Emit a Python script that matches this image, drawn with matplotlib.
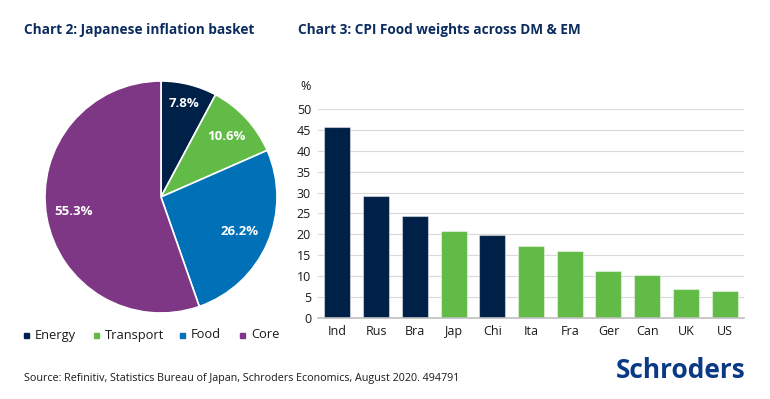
import numpy as np
import matplotlib.pyplot as plt
from matplotlib.patches import Rectangle

plt.rcParams['font.family'] = ['Open Sans', 'DejaVu Sans']

# Chart 2 data
pie_labels = ['Energy', 'Transport', 'Food', 'Core']
pie_values = [7.8, 10.6, 26.2, 55.3]
pie_colors = ['#002147', '#62BB46', '#0071B7', '#7E3784']

# Chart 3 data
countries = ['Ind', 'Rus', 'Bra', 'Jap', 'Chi', 'Ita', 'Fra', 'Ger', 'Can', 'UK', 'US']
food_weights = [45.7, 29.1, 24.4, 20.9, 19.9, 17.2, 15.9, 11.1, 10.2, 7.0, 6.3]
is_em = [True, True, True, False, True, False, False, False, False, False, False]

navy = '#0B2C5F'
text_col = '#1a1a1a'
W, H = 770, 399

fig = plt.figure(figsize=(7.7, 3.99), dpi=100)

# --- pie ---
ax1 = fig.add_axes([0.0584, 0.2155, 0.3013, 0.5815])
wedges, _ = ax1.pie(pie_values, colors=pie_colors, startangle=90, counterclock=False,
                    wedgeprops=dict(edgecolor='white', linewidth=1.2))
ax1.set_xlim(-1, 1)
ax1.set_ylim(-1, 1)
ax1.set_aspect('equal')
label_r = [0.83, 0.77, 0.74, 0.76]
for w, v, r in zip(wedges, pie_values, label_r):
    ang = np.deg2rad((w.theta1 + w.theta2) / 2)
    ax1.text(r * np.cos(ang), r * np.sin(ang), f'{v:.1f}%', ha='center', va='center',
             color='white', fontsize=9.5, fontweight='bold')

# legend of the pie
sq_x = [24, 94, 180, 240]
for lab, col, x in zip(pie_labels, pie_colors, sq_x):
    fig.patches.append(Rectangle((x / W, 1 - 337.5 / H), 5 / W, 5 / H, color=col,
                                 transform=fig.transFigure, figure=fig))
    fig.text((x + 11) / W, 1 - 335 / H, lab, color=text_col, fontsize=9.3, va='center', ha='left')

# --- bars ---
ax2 = fig.add_axes([0.413, 0.2038, 0.5532, 0.5223])
x = np.arange(len(countries))
bar_cols = [pie_colors[0] if em else pie_colors[1] for em in is_em]
ax2.bar(x, food_weights, width=0.67, color=bar_cols, edgecolor=(1, 1, 1, 0.45),
        linewidth=0.8, zorder=3)
ax2.set_xlim(-0.5, len(countries) - 0.5)
ax2.set_ylim(0, 50)
ax2.set_yticks(np.arange(0, 51, 5))
ax2.set_xticks(x)
ax2.set_xticklabels(countries)
ax2.yaxis.grid(True, color='#D9D9D9', linewidth=0.8, zorder=0)
ax2.tick_params(axis='both', length=0, labelsize=9, colors=text_col)
ax2.tick_params(axis='y', pad=5)
ax2.tick_params(axis='x', pad=5)
for s in ['top', 'right', 'left']:
    ax2.spines[s].set_visible(False)
ax2.spines['bottom'].set_color('#BFBFBF')
ax2.spines['bottom'].set_linewidth(1.2)
ax2.spines['bottom'].set_zorder(4)
fig.text(300 / W, 1 - 86 / H, '%', fontsize=9, color=text_col, va='center', ha='left')

# titles
fig.text(24 / W, 1 - 30 / H, 'Chart 2: Japanese inflation basket', fontsize=9.8,
         fontweight='bold', color=navy, va='center', ha='left')
fig.text(298 / W, 1 - 30 / H, 'Chart 3: CPI Food weights across DM & EM', fontsize=9.8,
         fontweight='bold', color=navy, va='center', ha='left')

# footer
fig.text(24 / W, 1 - 378 / H,
         'Source: Refinitiv, Statistics Bureau of Japan, Schroders Economics, August 2020. 494791',
         fontsize=7.75, color=text_col, va='center', ha='left')
fig.text(746 / W, 1 - 371 / H, 'Schroders', fontsize=19, fontweight='bold',
         color='#0B3A85', va='center', ha='right')

fig.savefig('out.png', dpi=100)
